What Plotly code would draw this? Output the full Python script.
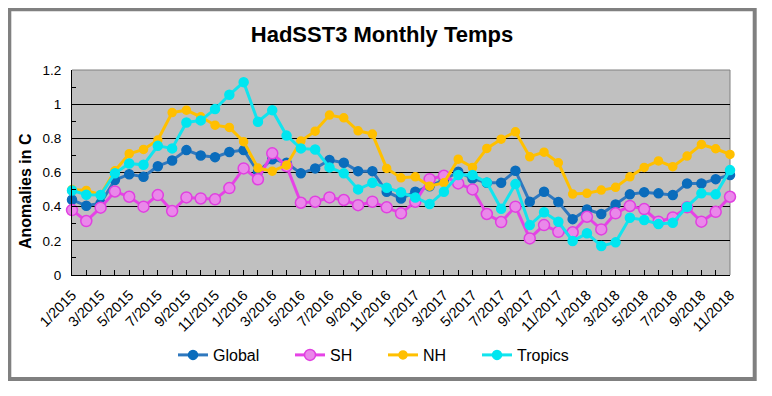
import plotly.graph_objects as go

# ---- data ----
months = [f"{m}/{y}" for y in range(2015, 2019) for m in range(1, 13)][:47]

global_vals = [0.44, 0.405, 0.42, 0.556, 0.59, 0.575, 0.637, 0.67, 0.731, 0.70,
               0.69, 0.72, 0.731, 0.604, 0.678, 0.657, 0.595, 0.624, 0.673, 0.657,
               0.608, 0.608, 0.487, 0.448, 0.487, 0.52, 0.556, 0.604, 0.565, 0.54,
               0.54, 0.61, 0.429, 0.487, 0.427, 0.327, 0.384, 0.357, 0.413, 0.472,
               0.485, 0.478, 0.468, 0.536, 0.536, 0.561, 0.585]
sh_vals = [0.38, 0.316, 0.394, 0.489, 0.458, 0.40, 0.468, 0.374, 0.454, 0.448,
           0.443, 0.509, 0.624, 0.56, 0.712, 0.637, 0.423, 0.429, 0.454, 0.439,
           0.409, 0.429, 0.396, 0.361, 0.429, 0.561, 0.581, 0.536, 0.501, 0.357,
           0.31, 0.40, 0.214, 0.292, 0.253, 0.25, 0.341, 0.267, 0.361, 0.404,
           0.386, 0.312, 0.337, 0.396, 0.312, 0.37, 0.458]
nh_vals = [0.50, 0.495, 0.47, 0.61, 0.71, 0.735, 0.79, 0.951, 0.965, 0.926,
           0.877, 0.864, 0.78, 0.626, 0.608, 0.643, 0.784, 0.842, 0.936, 0.92,
           0.844, 0.825, 0.624, 0.569, 0.575, 0.52, 0.54, 0.678, 0.63, 0.741,
           0.795, 0.838, 0.692, 0.719, 0.657, 0.474, 0.478, 0.497, 0.513, 0.575,
           0.63, 0.668, 0.634, 0.696, 0.764, 0.739, 0.706]
tropics_vals = [0.495, 0.47, 0.468, 0.595, 0.653, 0.645, 0.756, 0.741, 0.893, 0.905,
                0.971, 1.055, 1.129, 0.897, 0.965, 0.816, 0.741, 0.735, 0.63, 0.595,
                0.501, 0.54, 0.511, 0.484, 0.454, 0.415, 0.487, 0.585, 0.585, 0.542,
                0.388, 0.532, 0.292, 0.367, 0.312, 0.199, 0.244, 0.17, 0.191, 0.335,
                0.322, 0.298, 0.306, 0.40, 0.478, 0.472, 0.614]

tick_text = [m if i % 2 == 0 else "" for i, m in enumerate(months)]

FONT = "Liberation Sans, Arial, sans-serif"

series = [
    ("Global", global_vals, "#2F78BE", "#0A6CBC", "#0A6CBC", 9, "legend"),
    ("SH", sh_vals, "#E642E6", "#EA88EA", "#E040E0", 11, "legend2"),
    ("NH", nh_vals, "#FFC000", "#FFBF00", "#FFBF00", 8, "legend3"),
    ("Tropics", tropics_vals, "#12E4EE", "#00E6F0", "#00E6F0", 9, "legend4"),
]

fig = go.Figure()
for name, vals, lc, mc, mlc, ms, lg in series:
    fig.add_trace(go.Scatter(
        x=months, y=vals, name=name, mode="lines+markers",
        line=dict(color=lc, width=3),
        marker=dict(color=mc, size=ms, line=dict(color=mlc, width=1.5)),
        cliponaxis=False, legend=lg,
    ))

# the page body adds an 8px margin, so the figure is drawn 8px smaller/shifted
OFF = 8
W, H = 772 - OFF, 396 - OFF
L, R, T, B = 72 - OFF, 730 - OFF, 70 - OFF, 275 - OFF
pw, ph = R - L, B - T


def px(x):
    return (x - OFF - L) / pw


def py(y):
    return (B - (y - OFF)) / ph


legend_common = dict(orientation="h", xanchor="left", yanchor="middle",
                     y=py(355), font=dict(family=FONT, size=16, color="black"),
                     bgcolor="rgba(0,0,0,0)", itemwidth=30)

fig.update_layout(
    width=W, height=H,
    margin=dict(l=L, r=W - R, t=T, b=H - B, autoexpand=False),
    paper_bgcolor="white", plot_bgcolor="#C0C0C0",
    title=dict(text="<b>HadSST3 Monthly Temps</b>",
               font=dict(family=FONT, size=22, color="black"),
               x=px(382), xref="paper", xanchor="center",
               y=1 - (34 - OFF) / H, yref="container", yanchor="middle"),
    showlegend=True,
    legend=dict(x=px(173), **legend_common),
    legend2=dict(x=px(290), **legend_common),
    legend3=dict(x=px(383), **legend_common),
    legend4=dict(x=px(477), **legend_common),
    xaxis=dict(type="category", range=[0, len(months) - 1],
               tickmode="array", tickvals=months, ticktext=tick_text,
               tickangle=-45, ticks="inside", ticklen=5, tickcolor="black",
               ticklabelstandoff=5,
               showline=True, linecolor="black", linewidth=1,
               showgrid=False, zeroline=False,
               tickfont=dict(family=FONT, size=14.5, color="black")),
    yaxis=dict(range=[0, 1.2], dtick=0.2, tick0=0,
               ticks="inside", ticklen=5, tickcolor="black",
               ticklabelstandoff=7,
               minor=dict(dtick=0.1, ticks="inside", ticklen=4, tickcolor="black", showgrid=False),
               showline=True, linecolor="black", linewidth=1,
               showgrid=True, gridcolor="black", gridwidth=1,
               zeroline=False,
               tickfont=dict(family=FONT, size=13.5, color="black")),
    annotations=[dict(text="<b>Anomalies in C</b>", textangle=-90,
                      x=px(25), y=py(191), xref="paper", yref="paper",
                      showarrow=False, xanchor="center", yanchor="middle",
                      font=dict(family=FONT, size=16, color="black"))],
    shapes=[
        dict(type="rect", xref="paper", yref="paper",
             x0=px(9.3), x1=px(754.7), y0=py(379), y1=py(9.3),
             line=dict(color="#808080", width=4), layer="below"),
        dict(type="line", xref="x domain", yref="y domain",
             x0=0, x1=1, y0=1, y1=1, line=dict(color="#808080", width=1), layer="below"),
        dict(type="line", xref="x domain", yref="y domain",
             x0=1, x1=1, y0=0, y1=1, line=dict(color="#808080", width=1), layer="below"),
    ],
)

fig.write_html("out.html")
